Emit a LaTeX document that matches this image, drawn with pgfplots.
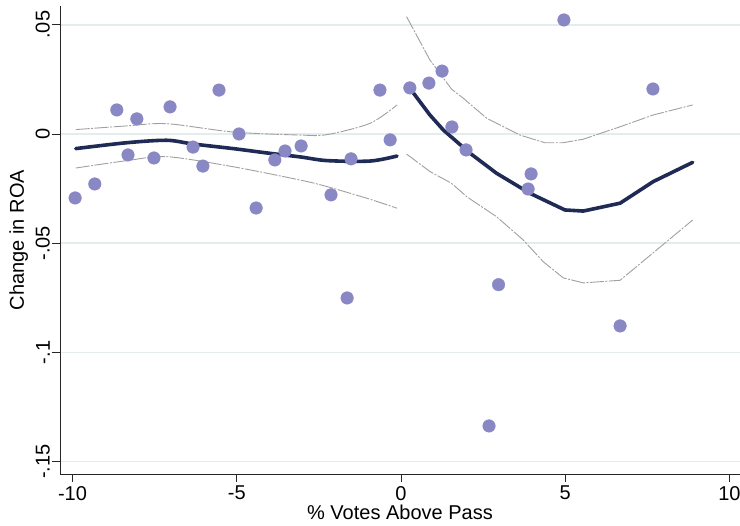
\documentclass[border=0pt]{standalone}
\usepackage{fontspec}
\setmainfont{Liberation Sans}
\usepackage{pgfplots}
\pgfplotsset{compat=1.18}
\definecolor{dotc}{HTML}{8A88C4}
\definecolor{fitc}{HTML}{1F2A55}
\definecolor{cic}{HTML}{A0A0A0}
\definecolor{gridc}{HTML}{E2EEEE}
\begin{document}
\begin{tikzpicture}
\begin{axis}[
  scale only axis, width=680pt, height=468pt,
  xmin=-10.38, xmax=10.32, ymin=-0.1557, ymax=0.0586,
  axis x line*=bottom, axis y line*=left,
  axis line style={-, line width=0.8pt, black!85},
  xtick={-10,-5,0,5,10}, xticklabels={-10,-5,0,5,10},
  ytick={-0.15,-0.1,-0.05,0,0.05}, yticklabels={-.15,-.1,-.05,0,.05},
  tick align=outside, major tick length=8pt,
  tick style={line width=0.8pt, black!85},
  ymajorgrids, major grid style={gridc, line width=1.5pt},
  every tick label/.style={font=\fontsize{20}{24}\selectfont},
  yticklabel style={rotate=90, anchor=south, inner sep=2pt},
  xticklabel style={inner sep=2pt, yshift=-2pt},
  label style={font=\fontsize{20}{24}\selectfont},
  xlabel={\% Votes Above Pass}, ylabel={Change in ROA},
  xlabel style={yshift=-2pt, inner sep=0pt},
  ylabel style={yshift=2pt},
  /pgf/number format/assume math mode=true,
  clip=false,
]
% scatter
\addplot[only marks, mark=*, mark size=6.3pt, dotc, mark options={draw=none, fill=dotc}] coordinates {
(-9.92,-0.0293) (-9.32,-0.0229) (-8.65,0.0110) (-8.04,0.0069) (-8.31,-0.0096)
(-7.52,-0.0110) (-7.03,0.0124) (-6.33,-0.0060) (-6.03,-0.0147) (-5.54,0.0201)
(-4.93,0.0000) (-4.41,-0.0339) (-3.84,-0.0119) (-3.53,-0.0078) (-3.04,-0.0055)
(-2.13,-0.0279) (-1.64,-0.0751) (-1.52,-0.0114) (-0.64,0.0201) (-0.33,-0.0027)
(0.27,0.0211) (0.85,0.0233) (1.25,0.0288) (1.55,0.0032) (1.98,-0.0073)
(2.68,-0.1337) (2.97,-0.0690) (3.96,-0.0183) (3.87,-0.0252) (4.96,0.0522)
(6.67,-0.0879) (7.67,0.0206)
};
% CI left
\addplot[cic, line width=0.9pt, smooth, dash pattern=on 14pt off 1.5pt on 2pt off 1.5pt] coordinates {
(-9.90,0.0020) (-8.34,0.0037) (-7.12,0.0047) (-5.11,0.0009) (-3.07,-0.0005) (-2.25,-0.0003) (-0.94,0.0049) (-0.12,0.0133)
};
\addplot[cic, line width=0.9pt, smooth, dash pattern=on 14pt off 1.5pt on 2pt off 1.5pt] coordinates {
(-9.90,-0.0156) (-8.34,-0.0122) (-7.12,-0.0104) (-5.11,-0.0150) (-3.07,-0.0211) (-2.25,-0.0241) (-0.94,-0.0299) (-0.12,-0.0340)
};
% CI right
\addplot[cic, line width=0.9pt, dash pattern=on 14pt off 1.5pt on 2pt off 1.5pt] coordinates {
(0.17,0.0537) (0.88,0.0339) (1.54,0.0205) (1.90,0.0163) (2.61,0.0072) (3.62,-0.0005) (4.38,-0.0040) (4.94,-0.0040) (5.55,-0.0024) (6.67,0.0033) (7.68,0.0087) (8.88,0.0133)
};
\addplot[cic, line width=0.9pt, dash pattern=on 14pt off 1.5pt on 2pt off 1.5pt] coordinates {
(0.17,-0.0092) (0.88,-0.0172) (1.54,-0.0226) (2.00,-0.0287) (2.91,-0.0379) (3.72,-0.0485) (4.33,-0.0585) (4.94,-0.0659) (5.55,-0.0682) (6.67,-0.0670) (8.88,-0.0394)
};
% fits
\addplot[fitc, line width=3.6pt, smooth, line cap=round] coordinates {
(-9.90,-0.0067) (-8.34,-0.0040) (-7.12,-0.0029) (-6.33,-0.0046) (-5.11,-0.0067) (-4.08,-0.0087) (-3.07,-0.0105) (-2.25,-0.0122) (-0.94,-0.0124) (-0.12,-0.0101)
};
\addplot[fitc, line width=3.6pt, line cap=round, line join=round] coordinates {
(0.27,0.0209) (0.88,0.0087) (1.29,0.0018) (2.10,-0.0088) (2.91,-0.0180) (3.93,-0.0272) (4.99,-0.0348) (5.55,-0.0353) (6.67,-0.0317) (7.68,-0.0218) (8.88,-0.0130)
};
\end{axis}
\pgfresetboundingbox
\path[use as bounding box] (-60pt,-52pt) rectangle (680pt,474pt);
\end{tikzpicture}
\end{document}
